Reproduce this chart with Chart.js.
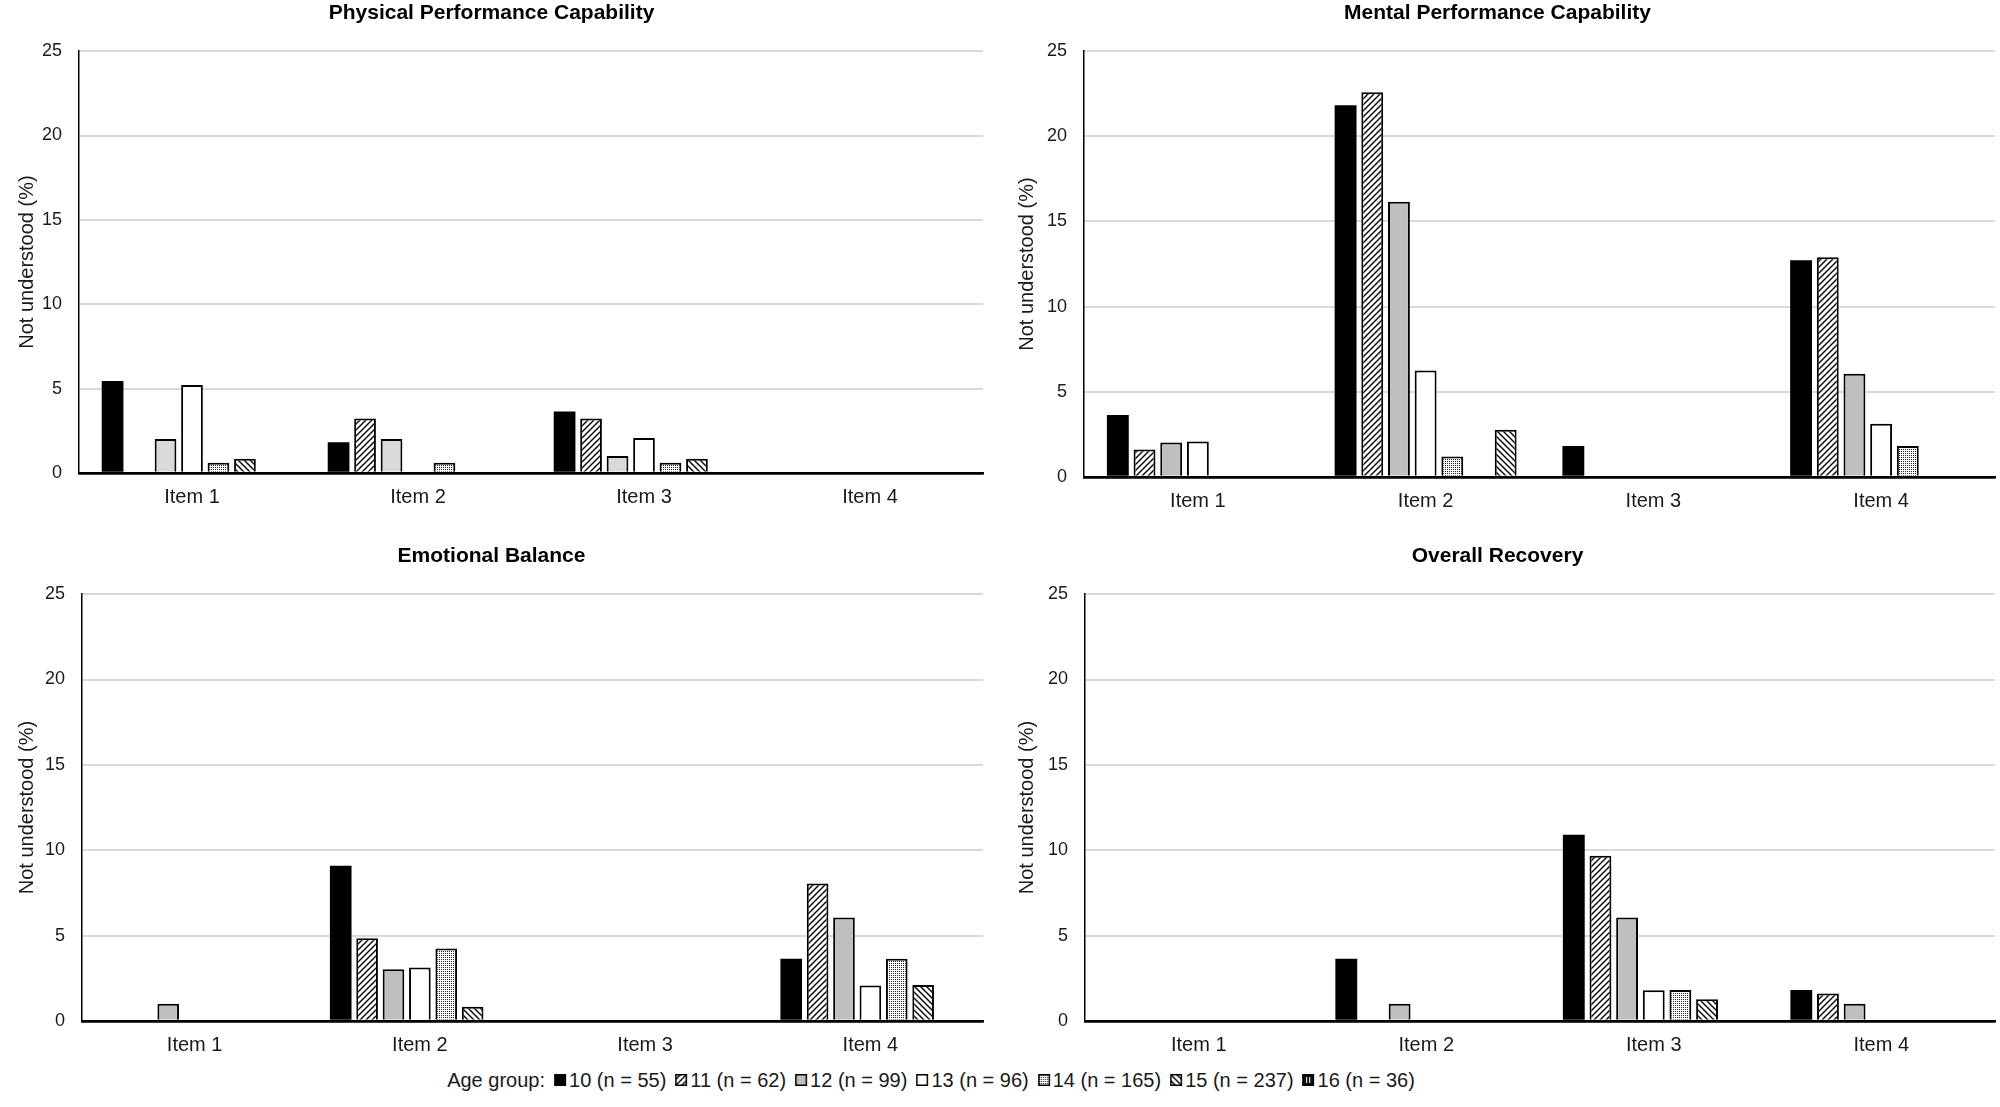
<!DOCTYPE html>
<html lang="en">
<head>
<meta charset="UTF-8">
<title>Not understood items by age group</title>
<script src="https://cdn.jsdelivr.net/npm/chart.js@4.4.1/dist/chart.umd.min.js"></script>
<style>
    body {
        margin: 0;
        background: #fff;
        font-family: "Liberation Sans", Arial, sans-serif;
    }
    .page {
        position: relative;
        width: 2000px;
        height: 1107px;
        overflow: hidden;
    }
    .panel {
        position: absolute;
    }
    .legend {
        position: absolute;
        top: 1068px;
        left: 931px;
        transform: translateX(-50%);
        display: flex;
        align-items: center;
        white-space: nowrap;
        font-size: 20px;
        line-height: 24px;
        color: #1a1a1a;
    }
    .legend .item {
        display: flex;
        align-items: center;
        margin-left: 9px;
    }
    .legend canvas {
        margin-right: 3px;
    }
</style>
</head>
<body>
<div class="page">
    <div class="panel" style="left:0;top:0;width:1000px;height:520px"><canvas id="physical"></canvas></div>
    <div class="panel" style="left:1000px;top:0;width:1000px;height:524px"><canvas id="mental"></canvas></div>
    <div class="panel" style="left:0;top:540px;width:1000px;height:528px"><canvas id="emotional"></canvas></div>
    <div class="panel" style="left:1000px;top:540px;width:1000px;height:528px"><canvas id="overall"></canvas></div>
    <div class="legend" id="legend"><span>Age group:</span></div>
</div>

<script>
    const items = ['Item 1', 'Item 2', 'Item 3', 'Item 4'];
    const ageGroups = ['10 (n = 55)', '11 (n = 62)', '12 (n = 99)', '13 (n = 96)',
                       '14 (n = 165)', '15 (n = 237)', '16 (n = 36)'];
    const yTicks = [0, 5, 10, 15, 20, 25];

    // one row per age group (10 ... 16), values for Item 1..4, in %
    const physical = [
        [5.45, 1.82, 3.64, 0],
        [0, 3.23, 3.23, 0],
        [2.02, 2.02, 1.01, 0],
        [5.21, 0, 2.08, 0],
        [0.61, 0.61, 0.61, 0],
        [0.84, 0, 0.84, 0],
        [0, 0, 0, 0]
    ];
    const mental = [
        [3.64, 21.82, 1.82, 12.73],
        [1.61, 22.58, 0, 12.9],
        [2.02, 16.16, 0, 6.06],
        [2.08, 6.25, 0, 3.13],
        [0, 1.21, 0, 1.82],
        [0, 0, 0, 0],
        [0, 2.78, 0, 0]
    ];
    const emotional = [
        [0, 9.09, 0, 3.64],
        [0, 4.84, 0, 8.06],
        [1.01, 3.03, 0, 6.06],
        [0, 3.13, 0, 2.08],
        [0, 4.24, 0, 3.64],
        [0, 0.84, 0, 2.11],
        [0, 0, 0, 0]
    ];
    const overall = [
        [0, 3.64, 10.91, 1.82],
        [0, 0, 9.68, 1.61],
        [0, 1.01, 6.06, 1.01],
        [0, 0, 1.8, 0],
        [0, 0, 1.82, 0],
        [0, 0, 1.27, 0],
        [0, 0, 0, 0]
    ];

    const FONT = '"Liberation Sans", Arial, sans-serif';
    const patCtx = document.createElement('canvas').getContext('2d');

    // diagonal hatch, dir 1 = "/", dir -1 = "\"
    function hatch(dir) {
        const s = 6;
        const c = document.createElement('canvas');
        c.width = s; c.height = s;
        const g = c.getContext('2d');
        g.fillStyle = '#fff';
        g.fillRect(0, 0, s, s);
        g.strokeStyle = '#000';
        g.lineWidth = 1.4;
        g.beginPath();
        if (dir > 0) {
            g.moveTo(0, s); g.lineTo(s, 0);
            g.moveTo(-1, 1); g.lineTo(1, -1);
            g.moveTo(s - 1, s + 1); g.lineTo(s + 1, s - 1);
        } else {
            g.moveTo(0, 0); g.lineTo(s, s);
            g.moveTo(s - 1, -1); g.lineTo(s + 1, 1);
            g.moveTo(-1, s - 1); g.lineTo(1, s + 1);
        }
        g.stroke();
        return patCtx.createPattern(c, 'repeat');
    }

    function dots() {
        const c = document.createElement('canvas');
        c.width = 2; c.height = 2;
        const g = c.getContext('2d');
        g.fillStyle = '#fff';
        g.fillRect(0, 0, 2, 2);
        g.fillStyle = '#222';
        g.fillRect(1, 1, 1, 1);
        return patCtx.createPattern(c, 'repeat');
    }

    const fwd = hatch(1);
    const back = hatch(-1);
    const dotted = dots();

    function fills(gray) {
        return ['#000', fwd, gray, '#fff', dotted, back, back];
    }

    function makeChart(id, title, rows, opt) {
        const datasets = rows.map((vals, i) => ({
            label: ageGroups[i],
            data: vals,
            backgroundColor: fills(opt.gray)[i],
            borderColor: '#000',
            borderWidth: i === 0 ? 0 : 2,
            categoryPercentage: 0.82,
            barPercentage: 0.82
        }));

        new Chart(document.getElementById(id), {
            type: 'bar',
            data: { labels: items, datasets: datasets },
            options: {
                responsive: true,
                maintainAspectRatio: false,
                animation: false,
                layout: { padding: { left: 0, right: opt.right, top: 0, bottom: 0 } },
                plugins: {
                    legend: { display: false },
                    tooltip: { enabled: false },
                    title: {
                        display: true,
                        text: title,
                        color: '#000',
                        font: { family: FONT, size: 21, weight: 'bold', lineHeight: 1.15 },
                        padding: { top: opt.titleTop, bottom: 26 }
                    }
                },
                scales: {
                    x: {
                        afterFit: (scale) => { scale.height = 47; },
                        grid: { display: false },
                        border: { display: true, color: '#000', width: 2.5 },
                        ticks: {
                            color: '#1a1a1a',
                            padding: 4,
                            font: { family: FONT, size: 20 }
                        }
                    },
                    y: {
                        min: 0,
                        max: 25,
                        afterFit: (scale) => { scale.width = opt.left; },
                        afterBuildTicks: (scale) => {
                            scale.ticks = yTicks.map(v => ({ value: v }));
                        },
                        border: { display: true, color: '#000', width: 1.5 },
                        grid: {
                            drawTicks: false,
                            color: (ctx) => ctx.tick && ctx.tick.value === 0 ? '#000' : '#d9d9d9',
                            lineWidth: (ctx) => ctx.tick && ctx.tick.value === 0 ? 2.5 : 2
                        },
                        ticks: {
                            color: '#1a1a1a',
                            padding: 17,
                            font: { family: FONT, size: 18 }
                        },
                        title: {
                            display: true,
                            text: 'Not understood (%)',
                            color: '#1a1a1a',
                            font: { family: FONT, size: 20 },
                            padding: { top: 15, bottom: 0 }
                        }
                    }
                }
            }
        });
    }

    makeChart('physical', 'Physical Performance Capability', physical,
              { left: 79, right: 17, titleTop: 1, gray: '#d9d9d9' });
    makeChart('mental', 'Mental Performance Capability', mental,
              { left: 84, right: 5, titleTop: 1, gray: '#bfbfbf' });
    makeChart('emotional', 'Emotional Balance', emotional,
              { left: 82, right: 17, titleTop: 4, gray: '#bfbfbf' });
    makeChart('overall', 'Overall Recovery', overall,
              { left: 85, right: 5, titleTop: 4, gray: '#bfbfbf' });

    // legend row
    const legend = document.getElementById('legend');
    const iconFills = ['#000', fwd, '#bfbfbf', '#fff', dotted, back, null];
    ageGroups.forEach((name, i) => {
        const item = document.createElement('span');
        item.className = 'item';
        const c = document.createElement('canvas');
        c.width = 12; c.height = 12;
        const g = c.getContext('2d');
        if (iconFills[i]) {
            g.fillStyle = iconFills[i];
            g.fillRect(0, 0, 12, 12);
        } else {
            g.fillStyle = '#111';
            g.fillRect(0, 0, 12, 12);
            g.fillStyle = '#fff';
            g.fillRect(4, 3, 1, 6);
            g.fillRect(7, 3, 1, 6);
        }
        g.strokeStyle = '#000';
        g.lineWidth = 1.5;
        g.strokeRect(0.75, 0.75, 10.5, 10.5);
        item.appendChild(c);
        const t = document.createElement('span');
        t.textContent = name;
        item.appendChild(t);
        legend.appendChild(item);
    });
</script>
</body>
</html>
